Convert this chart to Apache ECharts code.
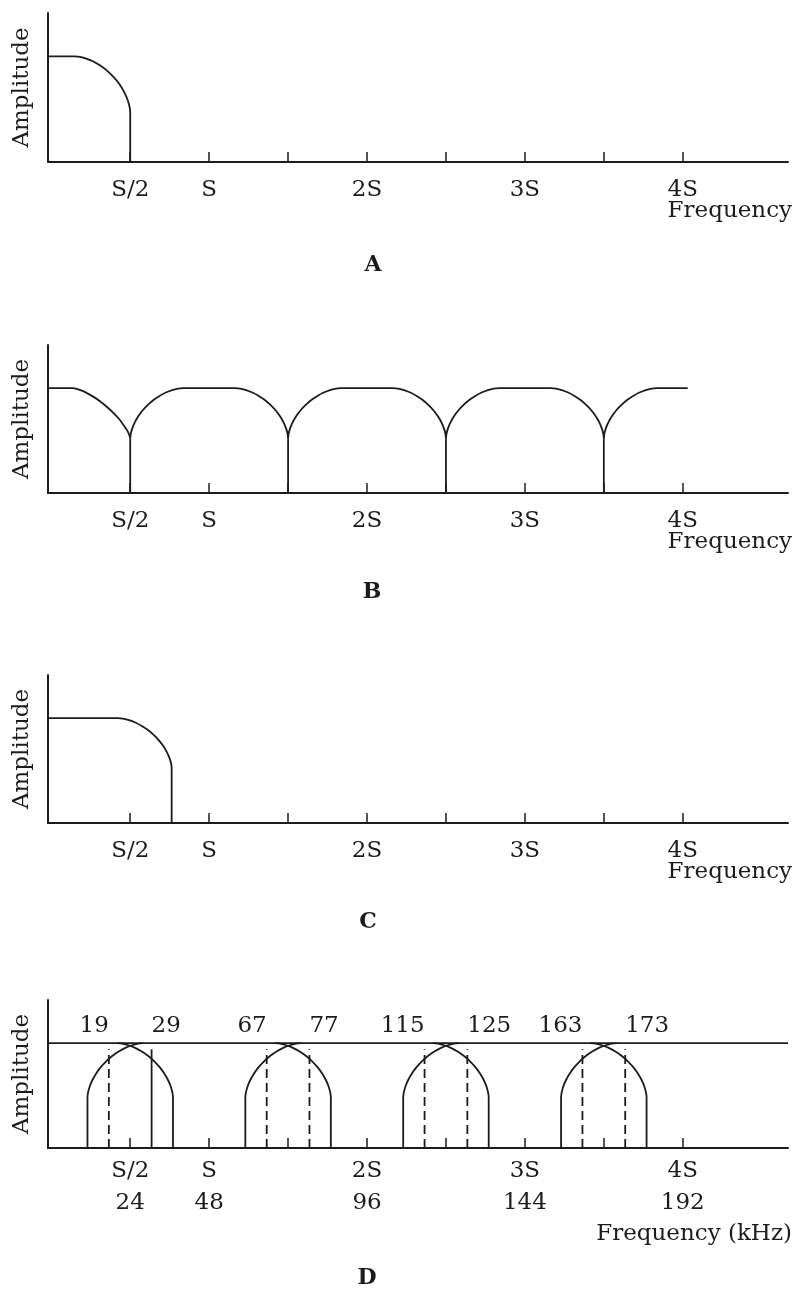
<!DOCTYPE html>
<html>
<head>
<meta charset="utf-8">
<script src="https://cdn.jsdelivr.net/npm/echarts@6/dist/echarts.min.js"></script>
<style>
  html, body { margin: 0; padding: 0; background: #fff; }
  #chart { width: 795px; height: 1291px; }
</style>
</head>
<body>
<div id="chart"></div>
<script>
// frequency axis in kHz, S = 48
var tickValues = [24, 48, 72, 96, 120, 144, 168, 192];
var labelValues = [24, 48, 96, 144, 192];
var labelNames = ['S/2', 'S', '2S', '3S', '4S'];
var labelKhz = ['24', '48', '96', '144', '192'];

// A: band-limited spectrum
var aX = [-1, 7.2, 8.73, 10.63, 12.63, 14.64, 16.57, 18.37, 20, 21.38, 22.5, 23.33, 23.83, 24, 24];
var aAmp = [1, 1, 0.995, 0.979, 0.953, 0.917, 0.874, 0.822, 0.766, 0.705, 0.641, 0.578, 0.518, 0.47, 0];

// B: spectrum with images (same lobe shape repeated)
var bBaseX = [-1, 6.6, 7.5, 9.1, 11, 13.1, 15.2, 17.2, 19.1, 20.8, 22.1, 23.2, 23.8, 24];
var bBaseAmp = [1, 1, 0.994, 0.977, 0.949, 0.911, 0.865, 0.812, 0.756, 0.698, 0.641, 0.59, 0.546, 0.52];
var bLobeAmp = [0.52, 0.564, 0.618, 0.675, 0.733, 0.788, 0.839, 0.886, 0.925, 0.957, 0.981, 0.995, 1,
  1, 0.995, 0.981, 0.957, 0.925, 0.886, 0.839, 0.788, 0.733, 0.675, 0.618, 0.564, 0.52];
var bLobe1X = [24, 24.16, 24.64, 25.42, 26.5, 27.81, 29.36, 31.07, 32.91, 34.83, 36.74, 38.54, 40,
  56, 57.46, 59.26, 61.17, 63.09, 64.93, 66.64, 68.19, 69.5, 70.58, 71.36, 71.84, 72];
var bLobe2X = [72, 72.16, 72.64, 73.42, 74.5, 75.81, 77.36, 79.07, 80.91, 82.83, 84.74, 86.54, 88,
  104, 105.46, 107.26, 109.17, 111.09, 112.93, 114.64, 116.19, 117.5, 118.58, 119.36, 119.84, 120];
var bLobe3X = [120, 120.16, 120.64, 121.42, 122.5, 123.81, 125.36, 127.07, 128.91, 130.83, 132.74, 134.54, 136,
  152, 153.46, 155.26, 157.17, 159.09, 160.93, 162.64, 164.19, 165.5, 166.58, 167.36, 167.84, 168];
var bLobe4X = [168, 168.16, 168.64, 169.42, 170.5, 171.81, 173.36, 175.07, 176.91, 178.83, 180.74, 182.54, 184, 193.5];
var bCuspX = [24, 72, 120, 168];
var bCuspTop = 0.52;

// C: spectrum wider than S/2
var cX = [-1, 20.3, 21.78, 23.63, 25.56, 27.52, 29.4, 31.14, 32.72, 34.06, 35.15, 35.95, 36.44, 36.6, 36.6];
var cAmp = [1, 1, 0.995, 0.981, 0.957, 0.925, 0.886, 0.839, 0.788, 0.733, 0.675, 0.618, 0.564, 0.52, 0];

// D: overlapping images, kHz
var dTopX = [-1, 224];
var dFallAmp = [1, 0.995, 0.979, 0.954, 0.919, 0.876, 0.826, 0.77, 0.71, 0.648, 0.586, 0.527, 0.48, 0];
var dRiseAmp = [0, 0.48, 0.527, 0.586, 0.648, 0.71, 0.77, 0.826, 0.876, 0.919, 0.954, 0.979, 0.995, 1];
var dFallX = [
  [20, 21.55, 23.47, 25.49, 27.53, 29.49, 31.31, 32.95, 34.35, 35.49, 36.32, 36.83, 37, 37],
  [68, 69.55, 71.47, 73.49, 75.53, 77.49, 79.31, 80.95, 82.35, 83.49, 84.32, 84.83, 85, 85],
  [116, 117.55, 119.47, 121.49, 123.53, 125.49, 127.31, 128.95, 130.35, 131.49, 132.32, 132.83, 133, 133],
  [164, 165.55, 167.47, 169.49, 171.53, 173.49, 175.31, 176.95, 178.35, 179.49, 180.32, 180.83, 181, 181]
];
var dRiseX = [
  [11, 11, 11.17, 11.68, 12.51, 13.65, 15.05, 16.69, 18.51, 20.47, 22.51, 24.53, 26.45, 28],
  [59, 59, 59.17, 59.68, 60.51, 61.65, 63.05, 64.69, 66.51, 68.47, 70.51, 72.53, 74.45, 76],
  [107, 107, 107.17, 107.68, 108.51, 109.65, 111.05, 112.69, 114.51, 116.47, 118.51, 120.53, 122.45, 124],
  [155, 155, 155.17, 155.68, 156.51, 157.65, 159.05, 160.69, 162.51, 164.47, 166.51, 168.53, 170.45, 172]
];
var dMarkX = [17.5, 30.5, 65.5, 78.5, 113.5, 126.5, 161.5, 174.5];
var dMarkLabels = ['19', '29', '67', '77', '115', '125', '163', '173'];
var dMarkSolid = [false, true, false, false, false, false, false, false];
var dMarkTop = 0.94;

var INK = '#1c1c1c';
var FONT = 'DejaVu Serif';
var FS = 23;
var gridTops = [13, 345, 675, 1000];
var gridHeights = [149, 148, 148, 148];

function zip(xs, ys) {
  return xs.map(function (x, k) { return [x, ys[k]]; });
}
function curve(i, pts) {
  return {type: 'line', xAxisIndex: i, yAxisIndex: i, data: pts, smooth: 0.25,
    symbol: 'none', lineStyle: {color: INK, width: 1.8}, silent: true};
}
function straight(i, pts, dashed) {
  return {type: 'line', xAxisIndex: i, yAxisIndex: i, data: pts, symbol: 'none',
    lineStyle: {color: INK, width: 1.8, type: dashed ? [9, 5] : 'solid'}, silent: true};
}

var grids = [], xAxes = [], yAxes = [];
gridTops.forEach(function (t, i) {
  grids.push({left: 48, width: 740, top: t, height: gridHeights[i]});
  xAxes.push({
    type: 'value', gridIndex: i, min: -1, max: 224,
    axisLine: {onZero: true, lineStyle: {color: INK, width: 2}},
    axisTick: {show: true, inside: true, length: 10, customValues: tickValues, lineStyle: {color: INK, width: 1.5}},
    axisLabel: {
      customValues: labelValues, color: INK, fontFamily: FONT, fontSize: FS,
      margin: i === 3 ? 7 : 12, lineHeight: 32,
      formatter: function (v) {
        var k = labelValues.indexOf(v);
        if (k < 0) return '';
        return i === 3 ? labelNames[k] + '\n' + labelKhz[k] : labelNames[k];
      }
    },
    splitLine: {show: false}
  });
  yAxes.push({
    type: 'value', gridIndex: i, min: 0, max: 1.41,
    axisLine: {show: true, onZero: false, lineStyle: {color: INK, width: 2}},
    axisTick: {show: false}, axisLabel: {show: false}, splitLine: {show: false},
    name: 'Amplitude', nameLocation: 'middle', nameRotate: 90, nameGap: 14,
    nameTextStyle: {color: INK, fontFamily: FONT, fontSize: FS}
  });
});

var series = [];
// A
series.push(curve(0, zip(aX, aAmp)));
// B
series.push(curve(1, zip(bBaseX, bBaseAmp)));
[bLobe1X, bLobe2X, bLobe3X].forEach(function (xs) { series.push(curve(1, zip(xs, bLobeAmp))); });
series.push(curve(1, zip(bLobe4X, bLobeAmp.slice(0, 13).concat([1]))));
bCuspX.forEach(function (x) { series.push(straight(1, [[x, 0], [x, bCuspTop]])); });
// C
series.push(curve(2, zip(cX, cAmp)));
// D
series.push(straight(3, zip(dTopX, [1, 1])));
dFallX.forEach(function (xs) { series.push(curve(3, zip(xs, dFallAmp))); });
dRiseX.forEach(function (xs) { series.push(curve(3, zip(xs, dRiseAmp))); });
dMarkX.forEach(function (x, k) { series.push(straight(3, [[x, 0], [x, dMarkTop]], !dMarkSolid[k])); });
series.push({
  type: 'scatter', xAxisIndex: 3, yAxisIndex: 3, symbolSize: 0, silent: true,
  itemStyle: {color: INK},
  data: dMarkX.map(function (x, k) {
    return {
      value: [x, 1],
      label: {
        show: true, position: 'top', distance: 6, align: k % 2 ? 'left' : 'right', opacity: 1,
        formatter: dMarkLabels[k], color: INK, fontFamily: FONT, fontSize: FS
      }
    };
  })
});

function txt(x, y, s, align, bold) {
  return {type: 'text', x: x, y: y, silent: true, style: {
    text: s, fill: INK, textAlign: align, textVerticalAlign: 'middle',
    font: (bold ? 'bold 22px' : FS + 'px') + ' "DejaVu Serif"'}};
}

var chart = echarts.init(document.getElementById('chart'));
chart.setOption({
  animation: false,
  backgroundColor: '#fff',
  grid: grids, xAxis: xAxes, yAxis: yAxes,
  series: series,
  graphic: [
    txt(792, 211, 'Frequency', 'right'),
    txt(792, 542, 'Frequency', 'right'),
    txt(792, 872, 'Frequency', 'right'),
    txt(792, 1234, 'Frequency (kHz)', 'right'),
    txt(373, 265, 'A', 'center', true),
    txt(372, 592, 'B', 'center', true),
    txt(368, 922, 'C', 'center', true),
    txt(367, 1278, 'D', 'center', true)
  ]
});
</script>
</body>
</html>
